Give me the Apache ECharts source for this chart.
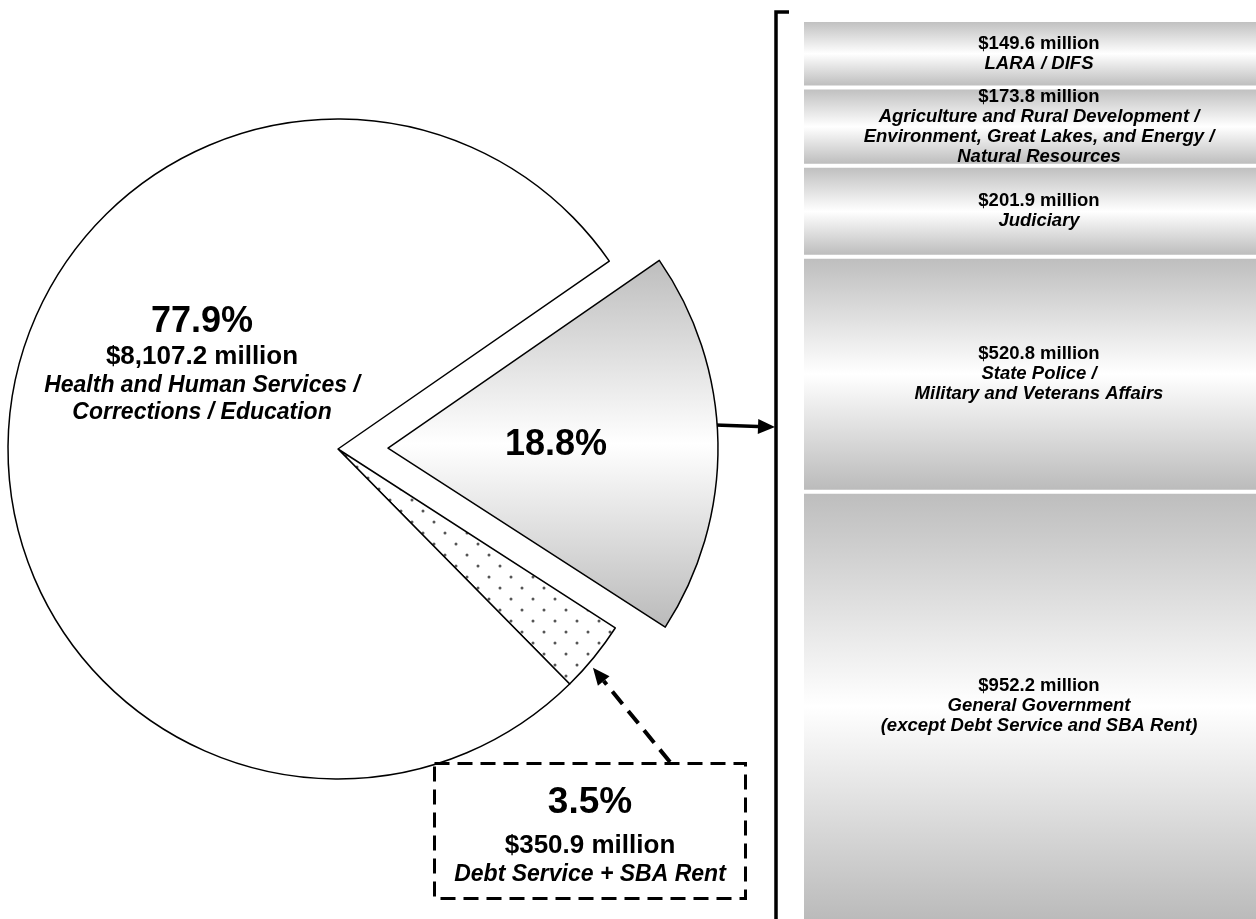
<!DOCTYPE html>
<html>
<head>
<meta charset="utf-8">
<script src="https://cdn.jsdelivr.net/npm/echarts@6/dist/echarts.min.js"></script>
<style>
  html, body { margin: 0; padding: 0; background: #fff; }
  #chart { width: 1256px; height: 919px; }
</style>
</head>
<body>
<div id="chart"></div>
<script>
// pie slices (clockwise from the exploded one)
const pieNames = ['', 'Debt Service + SBA Rent', 'Health and Human Services /\nCorrections / Education'];
const piePercents = [18.8, 3.5, 77.9];
const pieMillions = [null, 350.9, 8107.2];

// breakdown of the 18.8% slice, top to bottom
const barNames = [
    'LARA / DIFS',
    'Agriculture and Rural Development /\nEnvironment, Great Lakes, and Energy /\nNatural Resources',
    'Judiciary',
    'State Police /\nMilitary and Veterans Affairs',
    'General Government\n(except Debt Service and SBA Rent)'
];
const barMillions = [149.6, 173.8, 201.9, 520.8, 952.2];

const FONT = "'Liberation Sans', Arial, sans-serif";
const money = v => '$' + v.toLocaleString('en-US', { minimumFractionDigits: 1, maximumFractionDigits: 1 }) + ' million';

const grayGrad = () => ({
    type: 'linear', x: 0, y: 0, x2: 0, y2: 1,
    colorStops: [
        { offset: 0, color: '#bdbdbd' },
        { offset: 0.5, color: '#ffffff' },
        { offset: 1, color: '#bababa' }
    ]
});

// dotted fill for the small slice
const dots = document.createElement('canvas');
dots.width = 22; dots.height = 22;
const dctx = dots.getContext('2d');
dctx.fillStyle = '#fff';
dctx.fillRect(0, 0, 22, 22);
dctx.fillStyle = '#555';
[[5, 5], [16, 16]].forEach(p => { dctx.beginPath(); dctx.arc(p[0], p[1], 1.5, 0, Math.PI * 2); dctx.fill(); });

const pieColors = [grayGrad(), { image: dots, repeat: 'repeat' }, '#ffffff'];

const barTotal = barMillions.reduce((a, b) => a + b, 0);

const txt = (size, italic, lh) => ({
    fontSize: size, fontWeight: 'bold', fontStyle: italic ? 'italic' : 'normal',
    lineHeight: lh, color: '#000', fontFamily: FONT
});

const chart = echarts.init(document.getElementById('chart'));

const option = {
    animation: false,
    backgroundColor: '#fff',
    textStyle: { fontFamily: FONT },
    grid: { left: 802, right: -20, top: 20, bottom: -2, outerBoundsMode: 'none' },
    xAxis: { type: 'category', data: ['x'], show: false },
    yAxis: { type: 'value', inverse: true, min: 0, max: barTotal, show: false },
    series: [{
        type: 'pie',
        center: [338, 449],
        radius: [0, 330],
        startAngle: 34.7,
        selectedMode: 'single',
        selectedOffset: 50,
        silent: true,
        itemStyle: { borderColor: '#000', borderWidth: 1.5 },
        labelLine: { show: false },
        label: {
            show: true,
            position: 'inside',
            color: '#000',
            fontFamily: FONT,
            formatter: p => {
                const i = p.dataIndex;
                let s = '{pct|' + piePercents[i] + '%}';
                if (pieMillions[i] != null) s += '\n{amt|' + money(pieMillions[i]) + '}\n{nm|' + pieNames[i] + '}';
                return s;
            },
            rich: {
                pct: txt(36, false, 40),
                amt: txt(26, false, 30),
                nm: txt(23, true, 27)
            }
        },
        labelLayout: p => {
            if (p.dataIndex === 1) return { x: 590, y: 831, align: 'center', verticalAlign: 'middle' };
            if (p.dataIndex === 2) return { x: 202, y: 364, align: 'center', verticalAlign: 'middle' };
            return {};
        },
        data: piePercents.map((v, i) => {
            const d = { value: v, name: pieNames[i] || 'part', itemStyle: { color: pieColors[i] } };
            if (i === 0) d.selected = true;
            if (i === 1) {
                d.label = {
                    width: 305,
                    padding: [15, 3, 14, 3],
                    align: 'center',
                    borderColor: '#000',
                    borderWidth: 3,
                    borderType: [15, 8],
                    rich: {
                        pct: txt(37, false, 48),
                        amt: txt(26, false, 38),
                        nm: txt(23, true, 20)
                    }
                };
            }
            return d;
        })
    }].concat(barMillions.map((v, i) => ({
        type: 'bar',
        stack: 'total',
        barWidth: '100%',
        silent: true,
        data: [v],
        itemStyle: { color: grayGrad(), borderColor: '#fff', borderWidth: 2 },
        label: {
            show: true,
            position: 'inside',
            color: '#000',
            formatter: () => '{amt|' + money(v) + '}\n{nm|' + barNames[i] + '}',
            rich: {
                amt: txt(18.5, false, 20),
                nm: txt(18.5, true, 20)
            }
        }
    })))
};

chart.setOption(option);

// annotation arrows and bracket, placed from the pie's own layout
function arrow(x1, y1, x2, y2, dash, w) {
    const a = Math.atan2(y2 - y1, x2 - x1);
    const L = 17, W = 7.5;
    const bx = x2 - L * Math.cos(a), by = y2 - L * Math.sin(a);
    return [
        { type: 'line', shape: { x1: x1, y1: y1, x2: bx, y2: by },
          style: { stroke: '#000', lineWidth: w, lineDash: dash ? [16, 9] : null } },
        { type: 'polygon', shape: { points: [[x2, y2], [bx + W * Math.sin(a), by - W * Math.cos(a)], [bx - W * Math.sin(a), by + W * Math.cos(a)]] },
          style: { fill: '#000' } }
    ];
}

const pieData = chart.getModel().getSeriesByIndex(0).getData();
const big = pieData.getItemLayout(0);
const small = pieData.getItemLayout(1);
const mid0 = (big.startAngle + big.endAngle) / 2;
const ox = big.cx + 50 * Math.cos(mid0), oy = big.cy + 50 * Math.sin(mid0);
const a0 = -0.07;
const sA = small.startAngle + 0.62 * (small.endAngle - small.startAngle);

const bracketX = 776;
const g = []
    .concat(arrow(ox + big.r * Math.cos(a0) - 2, oy + big.r * Math.sin(a0), bracketX - 1, oy + big.r * Math.sin(a0) + 2, false, 3.5))
    .concat(arrow(670, 762, small.cx + (small.r + 6) * Math.cos(sA), small.cy + (small.r + 6) * Math.sin(sA), true, 4));
g.push({ type: 'polyline', shape: { points: [[bracketX, 930], [bracketX, 12], [789, 12]] },
         style: { stroke: '#000', lineWidth: 3.5, fill: null } });

chart.setOption({ graphic: g });
</script>
</body>
</html>
